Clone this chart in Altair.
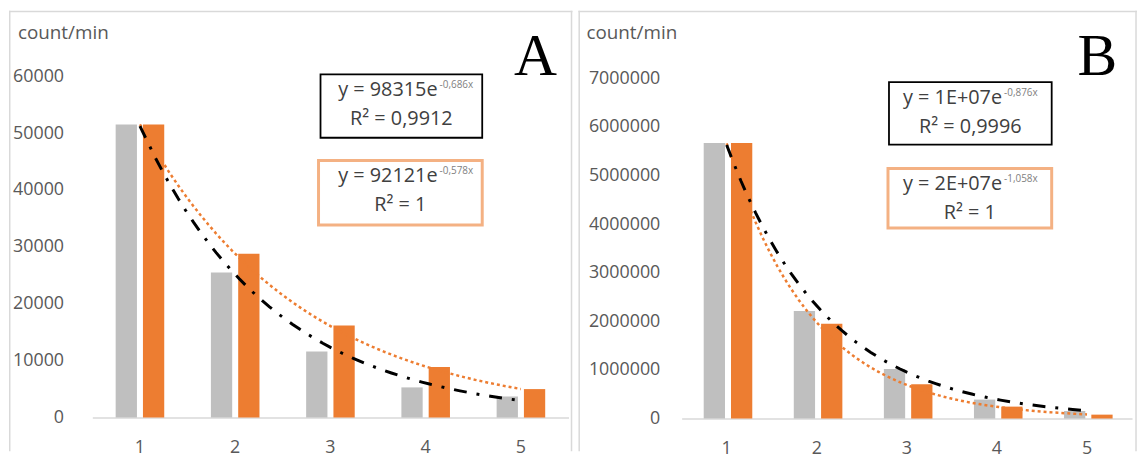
import altair as alt
import pandas as pd

# ---------------- data ----------------
categories = [1, 2, 3, 4, 5]
series_names = ["grey", "orange"]
a_grey = [51500, 25500, 11600, 5300, 3700]
a_orange = [51500, 28800, 16200, 8900, 5000]
b_grey = [5670000, 2210000, 1020000, 390000, 155000]
b_orange = [5670000, 1950000, 705000, 245000, 80000]

a_ticks = [0, 10000, 20000, 30000, 40000, 50000, 60000]
b_ticks = [0, 1000000, 2000000, 3000000, 4000000, 5000000, 6000000, 7000000]

y_title = "count/min"
a_letter = "A"
b_letter = "B"
a_eq_black = ["y = 98315e", "-0,686x", "R² = 0,9912"]
a_eq_orange = ["y = 92121e", "-0,578x", "R² = 1"]
b_eq_black = ["y = 1E+07e", "-0,876x", "R² = 0,9996"]
b_eq_orange = ["y = 2E+07e", "-1,058x", "R² = 1"]

GREY = "#BFBFBF"
ORANGE = "#ED7D31"
FRAME = "#D9D9D9"
FONT = "Open Sans"
ONE = pd.DataFrame({"k": [0]})


def make_df(grey, orange):
    rows = []
    for c, g, o in zip(categories, grey, orange):
        rows.append({"x": c, "series": series_names[0], "value": g})
        rows.append({"x": c, "series": series_names[1], "value": o})
    return pd.DataFrame(rows)


def txt(text, x, y, size=18, align="left", color="#404040", font=FONT):
    return alt.Chart(ONE).mark_text(
        text=text, font=font, fontSize=size, align=align,
        baseline="alphabetic", color=color
    ).encode(x=alt.value(x), y=alt.value(y))


def box(x1, y1, x2, y2, stroke, sw):
    return alt.Chart(ONE).mark_rect(
        fill="white", stroke=stroke, strokeWidth=sw
    ).encode(x=alt.value(x1), x2=alt.value(x2), y=alt.value(y1), y2=alt.value(y2))


def rule(x1, y1, x2, y2):
    return alt.Chart(ONE).mark_rule(color=FRAME, strokeWidth=1.5).encode(
        x=alt.value(x1), x2=alt.value(x2), y=alt.value(y1), y2=alt.value(y2)
    )


def panel(grey, orange, ticks, L, letter, eq_black, eq_orange):
    df = make_df(grey, orange)
    W, H = L["W"], L["H"]
    yaxis = alt.Axis(
        values=ticks, format="d", domain=False, ticks=False, grid=False,
        labelPadding=L["ylab_pad"], offset=L["yoff"], title=None,
        labelFont=FONT, labelFontSize=18, labelColor="#595959",
    )
    yscale = alt.Scale(domain=[0, ticks[-1]], range=L["yr"], nice=False, zero=True)

    bars = alt.Chart(df).mark_bar().encode(
        x=alt.X(
            "x:O",
            scale=alt.Scale(range=L["xr"], paddingInner=0.49, paddingOuter=0.245),
            axis=alt.Axis(
                labelAngle=0, ticks=False, grid=False, title=None,
                domainColor=FRAME, domainWidth=1.5, labelPadding=21,
                offset=L["xoff"], labelFont=FONT, labelFontSize=18,
                labelColor="#595959",
            ),
        ),
        xOffset=alt.XOffset(
            "series:N", sort=series_names,
            scale=alt.Scale(paddingInner=0.22, paddingOuter=0),
        ),
        y=alt.Y("value:Q", scale=yscale, axis=yaxis),
        color=alt.Color(
            "series:N", legend=None,
            scale=alt.Scale(domain=series_names, range=[GREY, ORANGE]),
        ),
    )

    qx = alt.X("x:Q", scale=alt.Scale(domain=[0.5, 5.5], range=L["xr"], nice=False, zero=False), axis=None)

    line_orange = alt.Chart(df).transform_filter(
        alt.datum.series == series_names[1]
    ).transform_regression(
        "x", "value", method="exp", extent=[1, 5]
    ).mark_line(color=ORANGE, strokeWidth=2.5, strokeDash=[3, 3]).encode(
        x=qx, y=alt.Y("value:Q", scale=yscale, axis=yaxis)
    )

    line_black = alt.Chart(df).transform_filter(
        alt.datum.series == series_names[0]
    ).transform_regression(
        "x", "value", method="exp", extent=[1, 5]
    ).mark_line(color="black", strokeWidth=3, strokeDash=[13, 10, 3, 10]).encode(
        x=qx, y=alt.Y("value:Q", scale=yscale, axis=yaxis)
    )

    bb, ob = L["bbox"], L["obox"]
    layers = [
        rule(0.75, 0, 0.75, H),
        rule(0, 0.75, W, 0.75),
        rule(W - 1, 0, W - 1, H),
        bars, line_orange, line_black,
        txt(y_title, L["title_x"], 28, size=19, color="#595959"),
        txt(letter, L["letter_x"], 65, size=60, color="black", font="Liberation Serif"),
        box(*bb, stroke="black", sw=1.8),
        txt(eq_black[0], L["eq_right"], bb[1] + 22, size=20, align="right"),
        txt(eq_black[1], L["eq_right"] + 2, bb[1] + 14, size=10, color="#7F7F7F"),
        txt(eq_black[2], (bb[0] + bb[2]) / 2, bb[1] + 51, size=20, align="center"),
        box(*ob, stroke="#F4B183", sw=3),
        txt(eq_orange[0], L["eq_right"], ob[1] + 22, size=20, align="right"),
        txt(eq_orange[1], L["eq_right"] + 2, ob[1] + 14, size=10, color="#7F7F7F"),
        txt(eq_orange[2], (ob[0] + ob[2]) / 2, ob[1] + 51, size=20, align="center"),
    ]
    return alt.layer(*layers).resolve_scale(x="independent").properties(width=W, height=H)


LA = dict(W=568, H=444, xr=[84, 564], yr=[410, 66], ylab_pad=29, xoff=-34, yoff=-84,
          bbox=(314, 64, 477, 128), obox=(312, 151, 477, 216), eq_right=432,
          letter_x=509, title_x=9)
LB = dict(W=563, H=444, xr=[104, 558], yr=[411, 68], ylab_pad=22, xoff=-33, yoff=-104,
          bbox=(313, 72, 477, 135), obox=(312, 159, 477, 219), eq_right=427,
          letter_x=503, title_x=8)

chart = alt.hconcat(
    panel(a_grey, a_orange, a_ticks, LA, a_letter, a_eq_black, a_eq_orange),
    panel(b_grey, b_orange, b_ticks, LB, b_letter, b_eq_black, b_eq_orange),
    spacing=4,
).properties(padding=0, background="white").configure_view(stroke=None)

chart.save("out.html", embed_options={"renderer": "svg", "actions": False})
